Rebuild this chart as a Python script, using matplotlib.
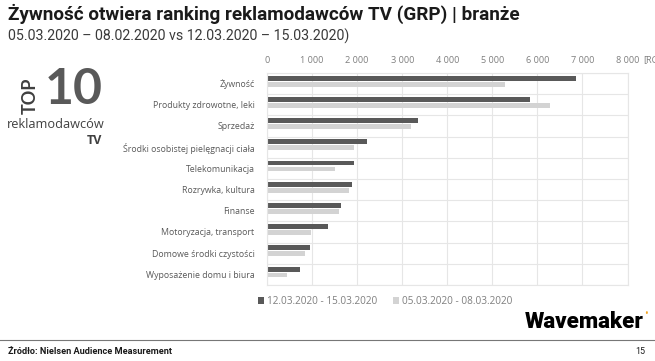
import matplotlib
matplotlib.use('Agg')
from matplotlib import pyplot as plt
import numpy as np

categories = ['Żywność', 'Produkty zdrowotne, leki', 'Sprzedaż',
              'Środki osobistej pielęgnacji ciała', 'Telekomunikacja',
              'Rozrywka, kultura', 'Finanse', 'Motoryzacja, transport',
              'Domowe środki czystości', 'Wyposażenie domu i biura']
grp_march_12_15 = [6850, 5830, 3360, 2220, 1940, 1880, 1650, 1355, 955, 725]
grp_march_05_08 = [5280, 6290, 3200, 1930, 1520, 1815, 1605, 985, 845, 445]
tick_values = [0, 1000, 2000, 3000, 4000, 5000, 6000, 7000, 8000]
tick_labels = ['0', '1 000', '2 000', '3 000', '4 000', '5 000', '6 000', '7 000', '8 000']
series_names = ['12.03.2020 - 15.03.2020', '05.03.2020 - 08.03.2020']

dark = '#595959'
light = '#d3d3d3'
label_col = '#595959'

plt.rcParams['font.family'] = ['Open Sans', 'DejaVu Sans']

fig = plt.figure(figsize=(6.55, 3.61), dpi=100)
ax = fig.add_axes([0.4076, 0.2105, 0.5505, 0.5875])

y = np.arange(len(categories))
bh = 0.23
ax.barh(y - 0.25, grp_march_12_15, height=bh, color=dark, label=series_names[0])
ax.barh(y + 0.03, grp_march_05_08, height=bh, color=light, label=series_names[1])

ax.set_ylim(len(categories) - 0.5, -0.5)
ax.set_xlim(0, 8000)
ax.set_yticks(y)
ax.set_yticklabels(categories, fontsize=6.3, color=label_col)
ax.set_yticks(np.arange(len(categories) + 1) - 0.5, minor=True)
ax.xaxis.tick_top()
ax.set_xticks(tick_values)
ax.set_xticklabels(tick_labels, fontsize=6.6, color='#7f7f7f')
ax.tick_params(axis='both', which='both', length=0, pad=6)
ax.tick_params(axis='y', pad=9)
# unit label runs past the right edge, as in the original slide
ax.annotate('[RGP]', xy=(8000, 1.0), xycoords=('data', 'axes fraction'),
            xytext=(11, 6), textcoords='offset points', fontsize=6.6,
            color='#7f7f7f', va='bottom', ha='left', annotation_clip=False)
ax.grid(axis='x', color='#e6e6e6', linewidth=0.8)
ax.grid(axis='y', which='minor', color='#e6e6e6', linewidth=0.8)
ax.set_axisbelow(True)
for s in ax.spines.values():
    s.set_color('#e6e6e6')
    s.set_linewidth(0.8)

ax.legend(loc='upper left', bbox_to_anchor=(-0.05, -0.01), ncol=2, frameon=False,
          fontsize=7.2, handlelength=0.6, handleheight=0.6, handletextpad=0.3,
          columnspacing=1.6, labelcolor='#7f7f7f')

# title block
fig.text(0.012, 0.962, 'Żywność otwiera ranking reklamodawców TV (GRP) | branże',
         fontsize=13.6, fontweight='bold', family=['Roboto', 'DejaVu Sans'],
         color='#1a1a1a', va='center', ha='left')
fig.text(0.012, 0.9, '05.03.2020 – 08.02.2020 vs 12.03.2020 – 15.03.2020)',
         fontsize=10.2, family=['Roboto', 'DejaVu Sans'],
         color='#3a3a3a', va='center', ha='left')

# TOP 10 badge
fig.text(0.046, 0.735, 'TOP', fontsize=13, fontweight='bold', color='#404040',
         rotation=90, va='center', ha='center', family=['Lato', 'DejaVu Sans'])
fig.text(0.112, 0.752, '10', fontsize=36, fontweight='bold', color='#595959',
         va='center', ha='center', family=['Lato', 'DejaVu Sans'])
fig.text(0.011, 0.654, 'reklamodawców', fontsize=9.2, color='#404040',
         va='center', ha='left')
fig.text(0.156, 0.612, 'TV', fontsize=9, fontweight='bold', color='#404040',
         va='center', ha='right')

# footer
fig.text(0.983, 0.108, 'Wavemaker', fontsize=16, fontweight='heavy',
         family=['Roboto', 'DejaVu Sans'], color='black', va='center', ha='right')
fig.text(0.984, 0.128, '•', fontsize=7, color='#f5a623', va='center', ha='left')
fig.add_artist(plt.Line2D([0.0, 1.0], [0.058, 0.058], color='#777777', linewidth=0.8,
                          transform=fig.transFigure))
fig.text(0.012, 0.025, 'Źródło: Nielsen Audience Measurement', fontsize=6.6,
         fontweight='bold', family=['Roboto', 'DejaVu Sans'], color='#1a1a1a',
         va='center', ha='left')
fig.text(0.985, 0.025, '15', fontsize=6.4, family=['Roboto', 'DejaVu Sans'],
         color='#1a1a1a', va='center', ha='right')

fig.savefig('out.png', dpi=100)
